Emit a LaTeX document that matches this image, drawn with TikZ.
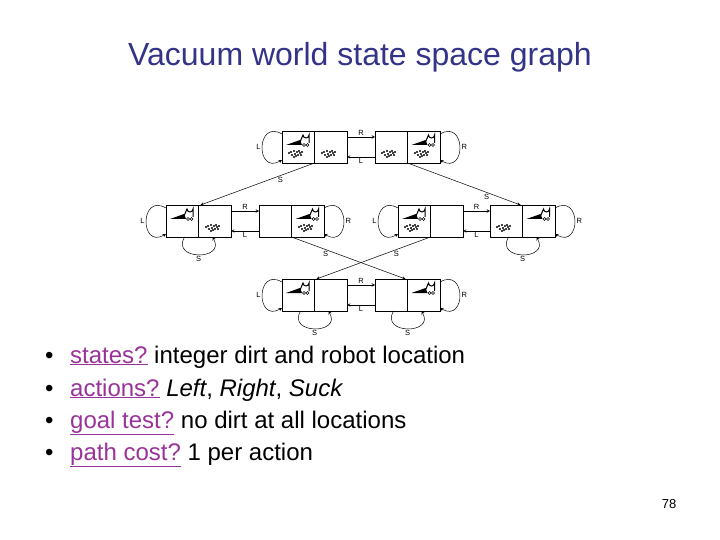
\documentclass[tikz,border=0pt]{standalone}
\usepackage{fontspec}
\setmainfont{Liberation Sans}
\definecolor{ttl}{HTML}{333388}
\definecolor{lnk}{HTML}{993399}
\begin{document}
\begin{tikzpicture}[x=1pt,y=-1pt,
  cell/.style={draw,line width=0.9pt,minimum width=32.5pt,minimum height=32pt,inner sep=0pt,outer sep=0pt},
  lbl/.style={font=\fontsize{7.5}{8}\selectfont,inner sep=1.5pt},
  arr/.style={->,>=stealth,line width=0.5pt},
  link/.style={text=lnk}]
\useasboundingbox (0,0) rectangle (720,540);
\newcommand\robotat[2]{%
  \begin{scope}[shift={(#1,#2)}]
  \fill (-12,4) -- (2,-1) -- (4,4) -- cycle;
  \draw[line width=1pt] (2,1) -- (5,-6) arc[start angle=180,end angle=0,radius=3] -- (11,2);
  \draw[line width=0.6pt] (6,4) circle(1.5) (9.5,4) circle(1.5);
  \end{scope}}
\newcommand\dirtat[2]{%
  \begin{scope}[shift={(#1,#2)}]
  \foreach \a/\b in {-5/-1,-2/-2,1/-1,4/0,-4/2,-1/1,2/2,5/2,-7/0,0/3,3/-2,-2/4,6/-1}
    \fill (\a,\b) circle(1.1);
  \end{scope}}
\newcommand\vstate[6]{%
  \node[cell,anchor=north west] (#1-l) at (#2,#3) {};
  \node[cell,anchor=north west] (#1-r) at (#2+32.5,#3) {};
  \if#4l\robotat{#2+16}{#3+10}\else\robotat{#2+48.5}{#3+10}\fi
  \ifnum#5=1 \dirtat{#2+14}{#3+22}\fi
  \ifnum#6=1 \dirtat{#2+47}{#3+22}\fi}
\node[font=\fontsize{32}{34}\selectfont,text=ttl] (title) at (360,57) {Vacuum world state space graph};
\vstate{A}{282}{131}{l}{1}{1}
\vstate{B}{375}{131}{r}{1}{1}
\vstate{C}{166}{205}{l}{0}{1}
\vstate{D}{259}{205}{r}{0}{1}
\vstate{E}{398}{205}{l}{1}{0}
\vstate{F}{490}{205}{r}{1}{0}
\vstate{G}{282}{279}{l}{0}{0}
\vstate{H}{375}{279}{r}{0}{0}
\foreach \p/\q in {A/B,C/D,E/F,G/H}{
  \draw[arr] ([yshift=10pt]\p-r.east) -- node[lbl,above]{R} ([yshift=10pt]\q-l.west);
  \draw[arr] ([yshift=-10pt]\q-l.west) -- node[lbl,below]{L} ([yshift=-10pt]\p-r.east);
}
\foreach \s in {A,C,E,G}{
  \draw[arr] ([yshift=13pt]\s-l.west) to[out=150,in=210,looseness=3] node[lbl,left]{L} ([yshift=-13pt]\s-l.west);}
\foreach \s in {B,D,F,H}{
  \draw[arr] ([yshift=13pt]\s-r.east) to[out=30,in=-30,looseness=3] node[lbl,right]{R} ([yshift=-13pt]\s-r.east);}
\foreach \s in {C,F,G,H}{
  \draw[arr] ([xshift=-14pt]\s-l.south east) to[out=-120,in=-60,looseness=2.5] node[lbl,below]{S} ([xshift=14pt]\s-l.south east);}
\draw[arr] (A-l.south east) -- node[lbl,below,pos=0.3]{S} ([xshift=2pt]C-l.north east);
\draw[arr] (B-l.south east) -- node[lbl,below,pos=0.7]{S} ([xshift=-2pt]F-l.north east);
\draw[arr] (D-l.south east) -- node[lbl,below,pos=0.3]{S} ([xshift=-2pt]H-l.north east);
\draw[arr] (E-l.south east) -- node[lbl,below,pos=0.3]{S} ([xshift=2pt]G-l.north east);
\begin{scope}[every node/.style={anchor=base west,font=\fontsize{24}{26}\selectfont,inner sep=0pt}]
\foreach \y/\t in {363/{\underline{states?} \color{black}integer dirt and robot location},
                   396/{\underline{actions?} \color{black}\textit{Left}, \textit{Right}, \textit{Suck}},
                   428/{\underline{goal test?} \color{black}no dirt at all locations},
                   460/{\underline{path cost?} \color{black}1 per action}}{
  \node at (45,\y) {\textbullet};
  \node[link] at (70,\y) {\t};}
\end{scope}
\node[font=\fontsize{13}{14}\selectfont] (pg) at (669,504) {78};
\end{tikzpicture}
\end{document}
